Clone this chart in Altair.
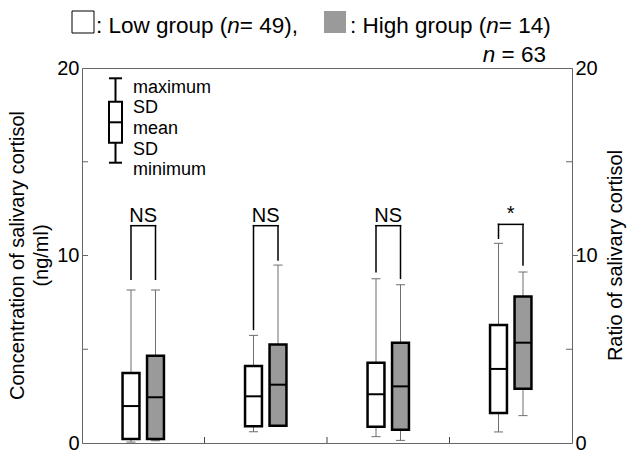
import json
import altair as alt
import pandas as pd

# ---------------- data ----------------
groups = ["M - N", "M/N", "M - E", "M/E"]
levels = ["Low", "High"]

low_min   = [0.05, 0.60, 0.34, 0.59]
low_lower = [0.21, 0.89, 0.87, 1.60]
low_mean  = [1.97, 2.49, 2.60, 3.95]
low_upper = [3.73, 4.11, 4.28, 6.29]
low_max   = [8.16, 5.74, 8.76, 10.65]

high_min   = [0.12, 0.92, 0.14, 1.46]
high_lower = [0.21, 0.92, 0.71, 2.90]
high_mean  = [2.44, 3.11, 3.02, 5.35]
high_upper = [4.66, 5.26, 5.35, 7.82]
high_max   = [8.16, 9.49, 8.44, 9.12]

sig_labels        = ["NS", "NS", "NS", "*"]
bracket_top       = [11.59, 11.59, 11.59, 11.66]
bracket_left_end  = [8.73, 6.06, 9.14, 10.92]
bracket_right_end = [8.73, 9.76, 8.78, 9.49]

n_low, n_high, n_total = 49, 14, 63
y_labels = [0, 10, 20]
y_minor_left = [5, 10, 15]
y_minor_right = [5, 15]
y_major_right = [10]
x_boundaries = [1, 2, 3]

# ---------------- layout ----------------
FONT = "Liberation Sans"
W, H = 490, 375
OFF, BW, CW = 0.1, 0.069, 0.037
GRAY = "#9a9a9a"
AX = "#666666"

XS = alt.Scale(domain=[0, 4], nice=False, zero=False)
YS = alt.Scale(domain=[0, 20], nice=False, zero=False)

ARIAL = {' ': 278, ':': 278, 'L': 556, 'o': 556, 'w': 722, 'g': 556, 'r': 333,
         'u': 556, 'p': 556, '(': 333, ')': 333, 'n': 556, '=': 584, ',': 278,
         'H': 722, 'i': 222, 'h': 556}


def tw(s, size):
    return sum(ARIAL.get(c, 556) for c in s) * size / 1000.0


rows = []
for i, g in enumerate(groups):
    for lvl, sign, mn, lo, me, up, mx in [
        ("Low", -1, low_min[i], low_lower[i], low_mean[i], low_upper[i], low_max[i]),
        ("High", 1, high_min[i], high_lower[i], high_mean[i], high_upper[i], high_max[i]),
    ]:
        c = i + 0.5 + sign * OFF
        rows.append(dict(group=g, level=lvl, c=c, l=c - BW, r=c + BW, cl=c - CW, cr=c + CW,
                         mn=mn, lo=lo, me=me, up=up, mx=mx))
box_df = pd.DataFrame(rows)

br_df = pd.DataFrame(dict(
    group=groups,
    xl=[i + 0.5 - OFF for i in range(len(groups))],
    xr=[i + 0.5 + OFF for i in range(len(groups))],
    xc=[i + 0.5 for i in range(len(groups))],
    top=bracket_top, le=bracket_left_end, re=bracket_right_end, lab=sig_labels,
))


def X(f, axis=None):
    return alt.X(f, type="quantitative", scale=XS, axis=axis, title=None)


def Y(f, axis=None):
    return alt.Y(f, type="quantitative", scale=YS, axis=axis, title=None)


label_expr = json.dumps(groups) + "[floor(datum.value)]"
x_axis = alt.Axis(values=[0.5, 1.5, 2.5, 3.5], labelExpr=label_expr, ticks=False, tickSize=0,
                  labelPadding=10, labelFontSize=20, labelFont=FONT, labelColor="black",
                  domainColor="#444444", grid=False, title=None)
y_axis_left = alt.Axis(values=y_labels, ticks=False, tickSize=0, labelPadding=3, labelFontSize=20,
                       labelFont=FONT, labelColor="black", domainColor=AX, grid=False,
                       labelFlush=False, title=None)
y_axis_right = alt.Axis(values=y_labels, orient="right", ticks=False, tickSize=0, labelPadding=3,
                        labelFontSize=20, labelFont=FONT, labelColor="black", domainColor=AX,
                        grid=False, labelFlush=False, title=None)

whisk = alt.Chart(box_df).mark_rule(color="#6e6e6e", strokeWidth=1).encode(
    x=X("c", x_axis), y=Y("mn", y_axis_left), y2="mx:Q")
cap_lo = alt.Chart(box_df).mark_rule(color="#6e6e6e", strokeWidth=1).encode(
    x=X("cl"), x2="cr:Q", y=Y("mn"))
cap_hi = alt.Chart(box_df).mark_rule(color="#6e6e6e", strokeWidth=1).encode(
    x=X("cl"), x2="cr:Q", y=Y("mx"))
boxes = alt.Chart(box_df).mark_rect(stroke="black", strokeWidth=2.5).encode(
    x=X("l"), x2="r:Q", y=Y("lo"), y2="up:Q",
    fill=alt.Fill("level:N", scale=alt.Scale(domain=levels, range=["white", GRAY]), legend=None))
means = alt.Chart(box_df).mark_rule(color="black", strokeWidth=2).encode(
    x=X("l"), x2="r:Q", y=Y("me"))

br_h = alt.Chart(br_df).mark_rule(color="black", strokeWidth=1.5, strokeCap="square").encode(
    x=X("xl"), x2="xr:Q", y=Y("top"))
br_l = alt.Chart(br_df).mark_rule(color="black", strokeWidth=1.5, strokeCap="square").encode(
    x=X("xl"), y=Y("le"), y2="top:Q")
br_r = alt.Chart(br_df).mark_rule(color="black", strokeWidth=1.5, strokeCap="square").encode(
    x=X("xr"), y=Y("re"), y2="top:Q")
sig = alt.Chart(br_df).mark_text(fontSize=20, font=FONT, baseline="alphabetic", dy=-4,
                                 color="black").encode(x=X("xc"), y=Y("top"), text="lab:N")

# axis ticks (inward)
t_left = alt.Chart(pd.DataFrame({"v": y_minor_left})).mark_rule(color=AX).encode(
    x=alt.value(0), x2=alt.value(6), y=Y("v"))
t_right = alt.Chart(pd.DataFrame({"v": y_minor_right})).mark_rule(color=AX).encode(
    x=alt.value(W - 6), x2=alt.value(W), y=Y("v", y_axis_right))
t_right10 = alt.Chart(pd.DataFrame({"v": y_major_right})).mark_rule(color=AX).encode(
    x=alt.value(W), x2=alt.value(W + 6), y=Y("v"))
t_bottom = alt.Chart(pd.DataFrame({"v": x_boundaries})).mark_rule(color="#444444").encode(
    x=X("v"), y=alt.value(H), y2=alt.value(H - 6))

one = pd.DataFrame({"k": [0]})


def txt(s, x, y, size=20, align="left", baseline="alphabetic", style="normal", angle=0):
    kw = dict(text=s, align=align, baseline=baseline, fontSize=size, font=FONT,
              fontStyle=style, color="black")
    if angle:
        kw["angle"] = angle
    return alt.Chart(one).mark_text(**kw).encode(x=alt.value(x), y=alt.value(y))


def rule(x, y, x2=None, y2=None, color="black", width=2):
    enc = dict(x=alt.value(x), y=alt.value(y))
    if x2 is not None:
        enc["x2"] = alt.value(x2)
    if y2 is not None:
        enc["y2"] = alt.value(y2)
    return alt.Chart(one).mark_rule(color=color, strokeWidth=width).encode(**enc)


def rect(x, x2, y, y2, fill, stroke=None, width=1):
    kw = dict(fill=fill)
    if stroke:
        kw.update(stroke=stroke, strokeWidth=width)
    return alt.Chart(one).mark_rect(**kw).encode(
        x=alt.value(x), x2=alt.value(x2), y=alt.value(y), y2=alt.value(y2))


# inset key
KS = 18
key = [
    rule(33.5, 10.3, y2=94.7),
    rule(27, 10.3, x2=40),
    rule(27, 94.7, x2=40),
    rect(27, 40, 33.7, 74.7, "white", "black", 2),
    rule(27, 54.3, x2=40),
    txt("maximum", 51, 24.5, KS),
    txt("SD", 51, 45, KS),
    txt("mean", 51, 65.5, KS),
    txt("SD", 51, 86.5, KS),
    txt("minimum", 51, 107, KS),
]

# header
HS = 22.5
hy = -35
x1 = 14
x2 = 268
p1 = ": Low group ("
p1b = f" = {n_low}),"
p2 = ": High group ("
p2b = f" = {n_high})"
p3 = f" = {n_total}"
header = [
    rect(-10, 12, -57, -35, "white", "black", 1),
    txt(p1, x1, hy, HS),
    txt("n", x1 + tw(p1, HS), hy, HS, style="italic"),
    txt(p1b, x1 + tw(p1, HS) + tw("n", HS), hy, HS),
    rect(242, 264, -57, -35, GRAY),
    txt(p2, x2, hy, HS),
    txt("n", x2 + tw(p2, HS), hy, HS, style="italic"),
    txt(p2b, x2 + tw(p2, HS) + tw("n", HS), hy, HS),
    txt(p3, 464, -6, HS, align="right"),
    txt("n", 464 - tw(p3, HS), -6, HS, align="right", style="italic"),
]

titles = [
    txt("Concentration of salivary cortisol", -64, H / 2, 20, align="center",
        baseline="middle", angle=270),
    txt("(ng/ml)", -40, H / 2, 20, align="center", baseline="middle", angle=270),
    txt("Ratio of salivary cortisol", 534, H / 2, 20, align="center", baseline="middle",
        angle=270),
]

chart = alt.layer(
    whisk, cap_lo, cap_hi, boxes, means, br_h, br_l, br_r, sig,
    t_left, t_right, t_right10, t_bottom, *key, *header, *titles,
).resolve_scale(y="independent").properties(
    width=W, height=H,
    padding={"left": 82, "top": 68, "right": 55, "bottom": 32},
    autosize=alt.AutoSizeParams(type="none"),
).configure_view(stroke=AX, strokeWidth=1)

chart.save("out.html", embed_options={"renderer": "svg", "actions": False})
